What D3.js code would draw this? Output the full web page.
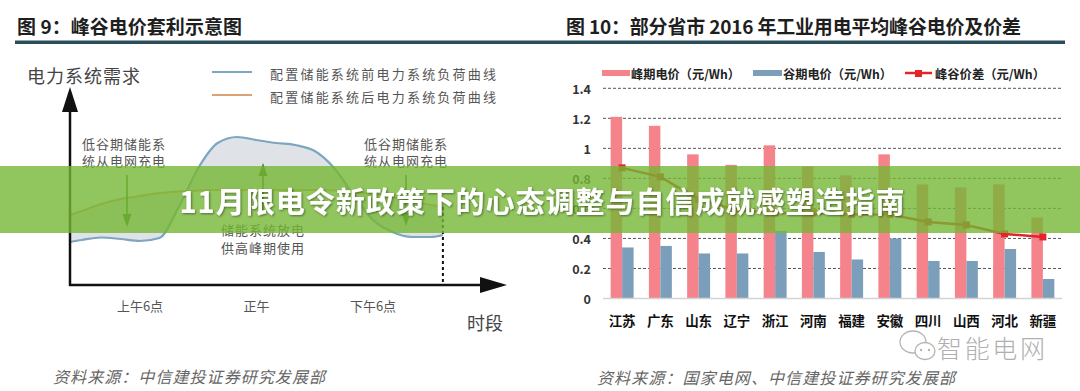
<!DOCTYPE html>
<html><head><meta charset="utf-8">
<script src="https://cdn.jsdelivr.net/npm/d3@7"></script>
<style>
html,body{margin:0;padding:0;background:#fff;}
svg{display:block;}
text{font-family:"Noto Sans CJK SC","Noto Sans",sans-serif;}
</style></head><body>
<svg id="c" width="1080" height="391"></svg>
<script>
// ---------- Right chart data ----------
const provinces = ["江苏","广东","山东","辽宁","浙江","河南","福建","安徽","四川","山西","河北","新疆"];
const peakPrice = [1.21,1.15,0.96,0.89,1.02,0.88,0.82,0.96,0.76,0.74,0.76,0.54];
const valleyPrice = [0.34,0.35,0.30,0.30,0.45,0.31,0.26,0.40,0.25,0.25,0.33,0.13];
const priceGap = [0.87,0.81,0.66,0.59,0.57,0.57,0.56,0.56,0.51,0.49,0.43,0.41];
const yTicks = [0,0.2,0.4,0.6,0.8,1,1.2,1.4];
const yTickLabels = ["0","0.2","0.4","0.6","0.8","1","1.2","1.4"];
const legendLabels = ["峰期电价（元/Wh）","谷期电价（元/Wh）","峰谷价差（元/Wh）"];

// ---------- Left chart data ----------
const hours =      [2.4, 3,   4,    5,  6,   7,   8,    9,    10,  11,  12,   13,  14,  15,  16,   17,  18,   19,   20,  21,  21.6];
const loadBefore = [21.5,22.5,23.75,23, 22,  23.5,39,   58.5, 71,  74,  72.5, 71,  70,  67,  58.5, 45,  32.5, 26.5, 24,  24,  25];
const loadAfter =  [35,  37,  40.5, 43, 44.5,46,  46.75,47.25,47.5,47.5,47.5, 47.5,47.5,47.5,47.25,46.5,45.5, 44,   42,  40,  39];
const timeTicks = [6,12,18];
const timeTickLabels = ["上午6点","正午","下午6点"];
const leftLegend = ["配置储能系统前电力系统负荷曲线","配置储能系统后电力系统负荷曲线"];

const svg = d3.select("#c");
const defs = svg.append("defs");
const f = defs.append("filter").attr("id","sh").attr("x","-5%").attr("y","-30%").attr("width","110%").attr("height","160%");
f.append("feDropShadow").attr("dx",1).attr("dy",1).attr("stdDeviation",1.2).attr("flood-color","#000").attr("flood-opacity",0.45);

// ---------- Titles ----------
svg.append("text").attr("x",17).attr("y",25).attr("dominant-baseline","central")
  .attr("font-size",19).attr("font-weight",700).attr("fill","#1e1e1e")
  .attr("textLength",225).attr("lengthAdjust","spacing").text("图 9：峰谷电价套利示意图");
svg.append("text").attr("x",566).attr("y",25).attr("dominant-baseline","central")
  .attr("font-size",19).attr("font-weight",700).attr("fill","#1e1e1e")
  .attr("textLength",455).attr("lengthAdjust","spacing").text("图 10：部分省市 2016 年工业用电平均峰谷电价及价差");
svg.append("rect").attr("x",15).attr("y",40.5).attr("width",1050).attr("height",3.5).attr("fill","#2b4d5c");

// ---------- Left chart ----------
const L = svg.append("g");
const xT = d3.scaleLinear().domain([6,18]).range([140,373]);
const yD = d3.scaleLinear().domain([0,100]).range([285,85]);

const area = d3.area().x((d,i)=>xT(hours[i])).y0((d,i)=>yD(loadAfter[i])).y1((d,i)=>yD(loadBefore[i])).curve(d3.curveMonotoneX);
L.append("path").datum(hours).attr("d",area).attr("fill","#dfe3e7");
const lineB = d3.line().x((d,i)=>xT(hours[i])).y(d=>yD(d)).curve(d3.curveMonotoneX);
L.append("path").datum(loadBefore).attr("d",lineB).attr("fill","none").attr("stroke","#7da6c0").attr("stroke-width",2.2);
L.append("path").datum(loadAfter).attr("d",lineB).attr("fill","none").attr("stroke","#dca273").attr("stroke-width",2);

// axes
L.append("line").attr("x1",70).attr("x2",70).attr("y1",110).attr("y2",286).attr("stroke","#111").attr("stroke-width",2.5);
L.append("path").attr("d","M70,87 L62,112 L78,112 Z").attr("fill","#111");
L.append("line").attr("x1",69).attr("x2",482).attr("y1",285).attr("y2",285).attr("stroke","#111").attr("stroke-width",2.5);
L.append("path").attr("d","M507,285 L480,277 L480,293 Z").attr("fill","#111");
L.append("line").attr("x1",xT(hours[hours.length-1])).attr("x2",xT(hours[hours.length-1]))
  .attr("y1",yD(loadAfter[loadAfter.length-1])).attr("y2",285).attr("stroke","#111").attr("stroke-width",2).attr("stroke-dasharray","3,3");

// green arrows
function arrow(x,y1,y2){
  const dir = y2>y1?1:-1;
  L.append("line").attr("x1",x).attr("x2",x).attr("y1",y1).attr("y2",y2-dir*10).attr("stroke","#3b7d24").attr("stroke-width",1.6);
  L.append("path").attr("d",`M${x},${y2} L${x-4.5},${y2-dir*13} L${x+4.5},${y2-dir*13} Z`).attr("fill","#3b7d24");
}
arrow(127,175,227);
arrow(263,215,163);
arrow(406,175,226);

// left texts
const txtGray = "#555";
L.append("text").attr("x",27).attr("y",75).attr("dominant-baseline","central").attr("font-size",18).attr("fill","#444")
  .attr("letter-spacing",1).text("电力系统需求");
L.append("line").attr("x1",212).attr("x2",252).attr("y1",72).attr("y2",72).attr("stroke","#7da6c0").attr("stroke-width",2);
L.append("line").attr("x1",212).attr("x2",252).attr("y1",95).attr("y2",95).attr("stroke","#dca273").attr("stroke-width",2);
leftLegend.forEach((t,i)=>{
  L.append("text").attr("x",270).attr("y",73+i*23).attr("dominant-baseline","central").attr("font-size",13)
   .attr("fill",txtGray).attr("textLength",226).attr("lengthAdjust","spacing").text(t);
});
function block(cx,ys,lines){
  lines.forEach((t,i)=>L.append("text").attr("x",cx).attr("y",ys[i]).attr("text-anchor","middle").attr("dominant-baseline","central")
    .attr("font-size",13).attr("fill",txtGray).attr("letter-spacing",1).text(t));
}
block(124,[143,160],["低谷期储能系","统从电网充电"]);
block(406,[143,160],["低谷期储能系","统从电网充电"]);
block(263,[229,247],["储能系统放电","供高峰期使用"]);
timeTicks.forEach((h,i)=>{
  L.append("text").attr("x",xT(h)).attr("y",305).attr("text-anchor","middle").attr("dominant-baseline","central")
   .attr("font-size",13).attr("fill",txtGray).text(timeTickLabels[i]);
});
L.append("text").attr("x",467).attr("y",322).attr("dominant-baseline","central").attr("font-size",18).attr("fill","#444").text("时段");
L.append("text").attr("x",53).attr("y",376).attr("dominant-baseline","central").attr("font-size",16).attr("font-style","italic")
  .attr("fill","#666").attr("textLength",272).attr("lengthAdjust","spacing").text("资料来源：中信建投证券研究发展部");

// ---------- Right chart ----------
const R = svg.append("g");
const x0 = d3.scaleBand().domain(provinces).range([603,1062]).paddingInner(0.4).paddingOuter(0.2);
const x1 = d3.scaleBand().domain(["peak","valley"]).range([0,x0.bandwidth()]);
const y = d3.scaleLinear().domain([0,1.4]).range([298.5,88.3]);

yTicks.forEach((t,i)=>{
  if(t>0){
    R.append("line").attr("x1",603).attr("x2",1062).attr("y1",y(t)).attr("y2",y(t))
     .attr("stroke","#555").attr("stroke-width",1).attr("stroke-dasharray","3,2");
  }
  R.append("text").attr("x",591).attr("y",y(t)).attr("text-anchor","end").attr("dominant-baseline","central")
   .attr("font-family","Liberation Sans, Arial, sans-serif").attr("font-weight",700).attr("font-size",12.5).attr("fill","#333")
   .text(yTickLabels[i]);
});

const colPeak = "#f4838b", colValley = "#7b9fba", colGap = "#e0262b";
R.selectAll("rect.pk").data(peakPrice).join("rect").attr("class","pk")
  .attr("x",(d,i)=>x0(provinces[i])+x1("peak")).attr("width",x1.bandwidth())
  .attr("y",d=>y(d)).attr("height",d=>y(0)-y(d)).attr("fill",colPeak);
R.selectAll("rect.vl").data(valleyPrice).join("rect").attr("class","vl")
  .attr("x",(d,i)=>x0(provinces[i])+x1("valley")).attr("width",x1.bandwidth())
  .attr("y",d=>y(d)).attr("height",d=>y(0)-y(d)).attr("fill",colValley);
R.append("line").attr("x1",603).attr("x2",1062).attr("y1",y(0)).attr("y2",y(0)).attr("stroke","#d4d4d4").attr("stroke-width",1.5);

const gl = d3.line().x((d,i)=>x0(provinces[i])+x0.bandwidth()/2).y(d=>y(d));
R.append("path").datum(priceGap).attr("d",gl).attr("fill","none").attr("stroke",colGap).attr("stroke-width",2.5);
R.selectAll("rect.gp").data(priceGap).join("rect").attr("class","gp")
  .attr("x",(d,i)=>x0(provinces[i])+x0.bandwidth()/2-3.5).attr("y",d=>y(d)-3.5).attr("width",7).attr("height",7).attr("fill",colGap);

provinces.forEach(p=>{
  R.append("text").attr("x",x0(p)+x0.bandwidth()/2).attr("y",320).attr("text-anchor","middle").attr("dominant-baseline","central")
   .attr("font-size",13.5).attr("font-weight",700).attr("fill","#111").text(p);
});

// legend
R.append("rect").attr("x",602).attr("y",70).attr("width",28).attr("height",6).attr("fill",colPeak);
R.append("rect").attr("x",753).attr("y",70).attr("width",29).attr("height",6).attr("fill",colValley);
R.append("line").attr("x1",905).attr("x2",932).attr("y1",73).attr("y2",73).attr("stroke",colGap).attr("stroke-width",2.5);
R.append("rect").attr("x",915).attr("y",70).attr("width",7).attr("height",7).attr("fill",colGap);
[[631,109],[783,109],[935,110]].forEach((p,i)=>{
  R.append("text").attr("x",p[0]).attr("y",73).attr("dominant-baseline","central").attr("font-size",12.5).attr("font-weight",700)
   .attr("fill","#222").attr("textLength",p[1]).attr("lengthAdjust","spacingAndGlyphs").text(legendLabels[i]);
});

// watermark
const W = R.append("g").attr("fill","#fff").attr("stroke","#b5b5b5").attr("stroke-width",1.3);
W.append("ellipse").attr("cx",913).attr("cy",342).attr("rx",13).attr("ry",11);
W.append("ellipse").attr("cx",925).attr("cy",351).attr("rx",10).attr("ry",8.5);
R.append("circle").attr("cx",921).attr("cy",350).attr("r",1.2).attr("fill","#b5b5b5");
R.append("circle").attr("cx",929).attr("cy",350).attr("r",1.2).attr("fill","#b5b5b5");
R.append("text").attr("x",937).attr("y",347).attr("dominant-baseline","central").attr("font-size",25).attr("font-weight",300)
  .attr("fill","#b0b0b0").attr("textLength",108).attr("lengthAdjust","spacing").text("智能电网");
R.append("text").attr("x",597).attr("y",377).attr("dominant-baseline","central").attr("font-size",16).attr("font-style","italic")
  .attr("fill","#666").attr("textLength",358).attr("lengthAdjust","spacing").text("资料来源：国家电网、中信建投证券研究发展部");

// ---------- Banner ----------
svg.append("rect").attr("x",0).attr("y",166).attr("width",1080).attr("height",67).attr("fill","rgb(118,182,52)").attr("fill-opacity",0.8);
svg.append("text").attr("x",542).attr("y",200).attr("text-anchor","middle").attr("dominant-baseline","central")
  .attr("font-size",29).attr("font-weight",700).attr("fill","#fff").attr("filter","url(#sh)")
  .attr("textLength",725).attr("lengthAdjust","spacing").text("11月限电令新政策下的心态调整与自信成就感塑造指南");
</script>
</body></html>
